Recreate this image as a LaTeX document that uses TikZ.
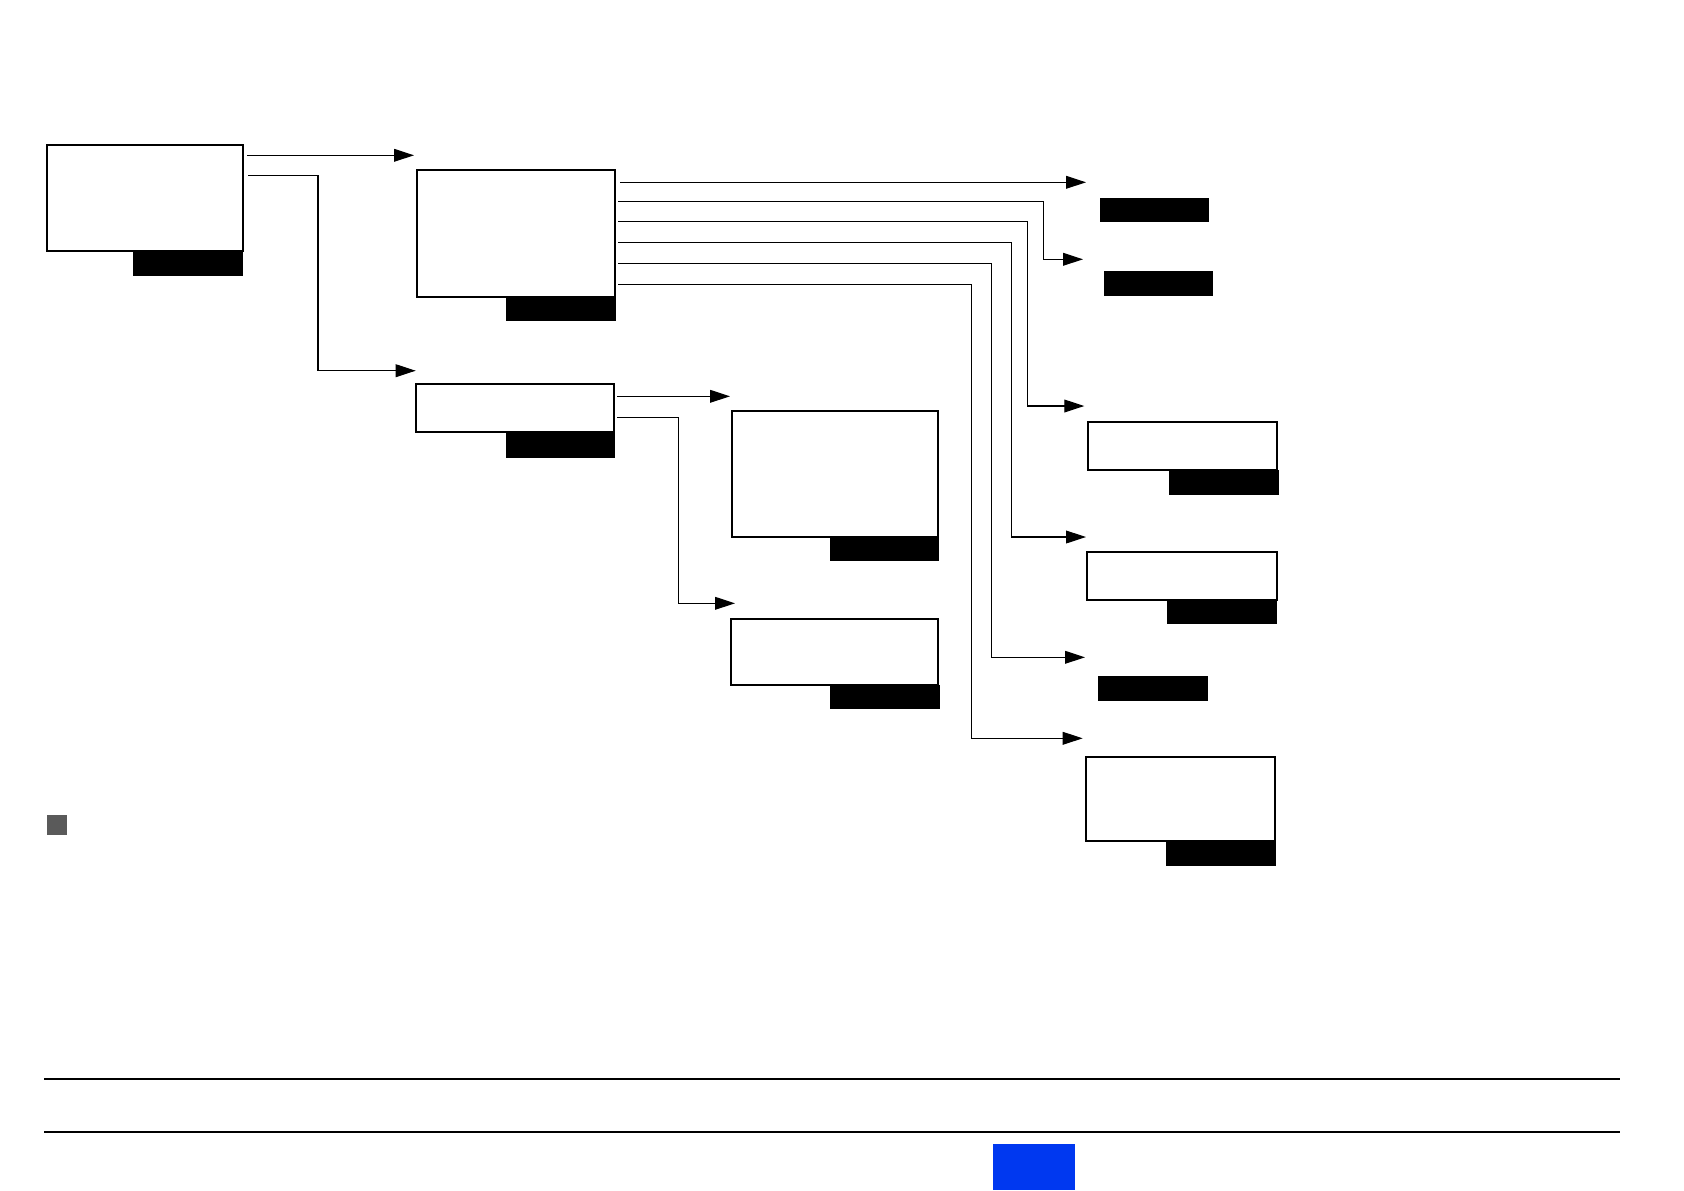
\documentclass[tikz,border=0pt]{standalone}
\usetikzlibrary{arrows.meta}
\definecolor{footblue}{RGB}{0,56,240}
\definecolor{markgray}{RGB}{90,90,90}
\tikzset{
  boxnode/.style={draw=black, line width=1pt, fill=white, anchor=north west, inner sep=0pt, outer sep=0pt},
  labnode/.style={fill=black, draw=none, anchor=north west, inner sep=0pt, outer sep=0pt},
  conn/.style={draw=black, line width=0.55pt, -{Triangle[length=10pt,width=6.4pt]}},
  rule/.style={draw=black, line width=1pt}
}
\begin{document}
\begin{tikzpicture}[x=0.5pt, y=-0.5pt]
\useasboundingbox[fill=white] (0,0) rectangle (1684,1190);
% boxes
\node[boxnode, minimum width=97.7pt, minimum height=53pt] (A) at (47.3,144.7) {};
\node[labnode, minimum width=54.7pt, minimum height=12.5pt] (Al) at (133.3,250.7) {};
\node[boxnode, minimum width=99.15pt, minimum height=63.65pt] (B) at (416.7,170) {};
\node[labnode, minimum width=54.85pt, minimum height=11.7pt] (Bl) at (506,297.3) {};
\node[boxnode, minimum width=99.15pt, minimum height=24.15pt] (C) at (415.7,383.7) {};
\node[labnode, minimum width=54.5pt, minimum height=12.85pt] (Cl) at (506,432) {};
\node[boxnode, minimum width=103.25pt, minimum height=62.85pt] (D) at (731.5,411) {};
\node[labnode, minimum width=54.35pt, minimum height=12pt] (Dl) at (830,536.7) {};
\node[boxnode, minimum width=103.65pt, minimum height=33.3pt] (E) at (730.7,618.7) {};
\node[labnode, minimum width=54.85pt, minimum height=11.7pt] (El) at (830,685.3) {};
\node[labnode, minimum width=54.5pt, minimum height=11.7pt] (R1) at (1100,198.3) {};
\node[labnode, minimum width=54.5pt, minimum height=12.35pt] (R2) at (1104,271) {};
\node[boxnode, minimum width=94.8pt, minimum height=24pt] (F) at (1087.7,422) {};
\node[labnode, minimum width=55pt, minimum height=12.35pt] (Fl) at (1169,470) {};
\node[boxnode, minimum width=95.3pt, minimum height=24pt] (G) at (1086.7,552) {};
\node[labnode, minimum width=54.85pt, minimum height=11.85pt] (Gl) at (1167,600) {};
\node[labnode, minimum width=55pt, minimum height=12.5pt] (R3) at (1098,676) {};
\node[boxnode, minimum width=94.8pt, minimum height=42.15pt] (H) at (1085.7,756.7) {};
\node[labnode, minimum width=54.7pt, minimum height=12.5pt] (Hl) at (1166.3,841) {};
% connector ends
\coordinate (a1) at (247.3,155.3);
\coordinate (t1) at (414,155.3);
\coordinate (a2) at (248.3,175.3);
\coordinate (t2) at (415.7,370.7);
\coordinate (b1) at (620,182.3);   \coordinate (u1) at (1086,182.3);
\coordinate (b2) at (618,201.3);   \coordinate (u2) at (1083,259.3);
\coordinate (b3) at (618,221.3);   \coordinate (u3) at (1084.3,406);
\coordinate (b4) at (618,242.3);   \coordinate (u4) at (1086,537);
\coordinate (b5) at (618,263.3);   \coordinate (u5) at (1085,657.3);
\coordinate (b6) at (618,284.3);   \coordinate (u6) at (1082.7,738.3);
\coordinate (c1) at (617,396.3);   \coordinate (v1) at (730,396.3);
\coordinate (c2) at (617,417.3);   \coordinate (v2) at (735,603.3);
% connectors
\draw[conn] (a1) -- (t1);
\draw[conn] (a2) -- (318,175.3) -- (318,370.7) -- (t2);
\draw[conn] (b1) -- (u1);
\draw[conn] (b2) -- (1043.3,201.3) -- (1043.3,259.3) -- (u2);
\draw[conn] (b3) -- (1027.7,221.3) -- (1027.7,406) -- (u3);
\draw[conn] (b4) -- (1011.7,242.3) -- (1011.7,537) -- (u4);
\draw[conn] (b5) -- (991.7,263.3) -- (991.7,657.3) -- (u5);
\draw[conn] (b6) -- (971.7,284.3) -- (971.7,738.3) -- (u6);
\draw[conn] (c1) -- (v1);
\draw[conn] (c2) -- (678.3,417.3) -- (678.3,603.3) -- (v2);
% marker square
\node[fill=markgray, draw=none, anchor=north west, inner sep=0pt, minimum width=10pt, minimum height=10.2pt] (sq) at (46.7,814.3) {};
% footer rules
\coordinate (r1l) at (44,1079);   \coordinate (r1r) at (1620,1079);
\coordinate (r2l) at (44,1131.7); \coordinate (r2r) at (1620,1131.7);
\draw[rule] (r1l) -- (r1r);
\draw[rule] (r2l) -- (r2r);
% blue tab
\node[fill=footblue, draw=none, anchor=north west, inner sep=0pt, minimum width=41pt, minimum height=23pt] (tab) at (993,1144) {};
\end{tikzpicture}
\end{document}
